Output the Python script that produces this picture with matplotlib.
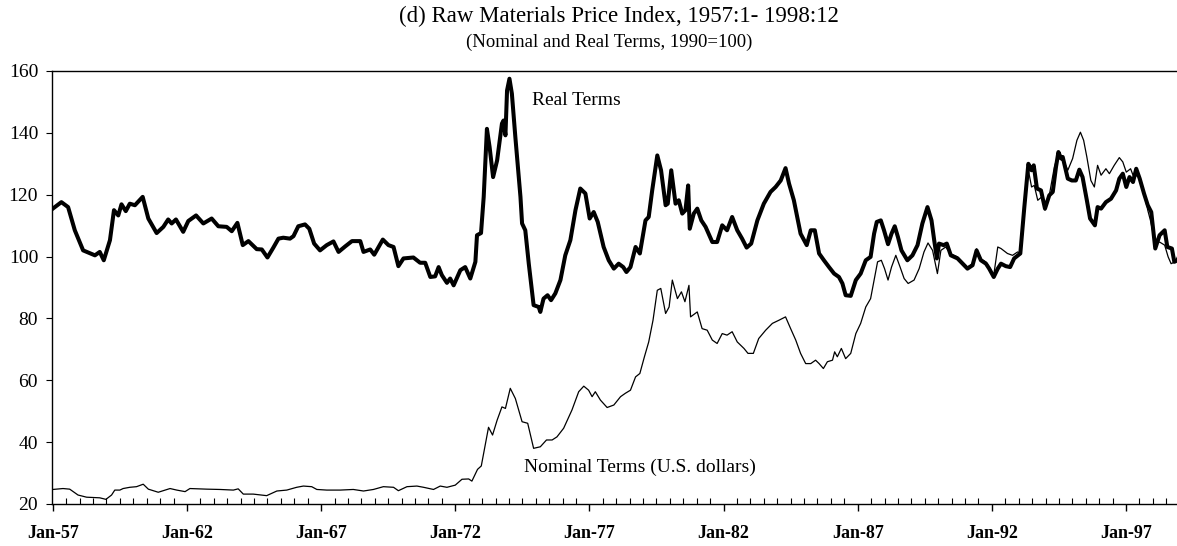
import matplotlib
matplotlib.use("Agg")
import matplotlib.pyplot as plt
from matplotlib.ticker import MultipleLocator, FixedLocator

# Real terms (decimal years)
real_t = [1957.00, 1957.32, 1957.57, 1957.82, 1958.13, 1958.57, 1958.75, 1958.90, 1959.13, 1959.28,
          1959.44, 1959.56, 1959.72, 1959.87, 1960.06, 1960.35, 1960.56, 1960.87, 1961.12, 1961.30,
          1961.43, 1961.59, 1961.86, 1962.05, 1962.34, 1962.61, 1962.92, 1963.17, 1963.48, 1963.67,
          1963.88, 1964.08, 1964.29, 1964.60, 1964.79, 1965.00, 1965.22, 1965.41, 1965.59, 1965.84,
          1965.97, 1966.15, 1966.40, 1966.56, 1966.74, 1966.96, 1967.21, 1967.46, 1967.65, 1967.90,
          1968.15, 1968.46, 1968.58, 1968.83, 1968.98, 1969.30, 1969.51, 1969.70, 1969.88, 1970.07,
          1970.44, 1970.69, 1970.88, 1971.07, 1971.25, 1971.38, 1971.50, 1971.69, 1971.81, 1971.94,
          1972.19, 1972.37, 1972.56, 1972.75, 1972.81, 1972.96, 1973.06, 1973.18, 1973.28, 1973.41,
          1973.56, 1973.74, 1973.80, 1973.87, 1973.93, 1974.02, 1974.11, 1974.24, 1974.43, 1974.49,
          1974.61, 1974.74, 1974.92, 1975.11, 1975.17, 1975.29, 1975.44, 1975.57, 1975.73, 1975.92,
          1976.10, 1976.29, 1976.48, 1976.66, 1976.85, 1977.01, 1977.16, 1977.31, 1977.53, 1977.72,
          1977.91, 1978.09, 1978.26, 1978.38, 1978.53, 1978.72, 1978.88, 1979.09, 1979.21, 1979.34,
          1979.53, 1979.67, 1979.84, 1979.92, 1980.05, 1980.21, 1980.33, 1980.46, 1980.58, 1980.68,
          1980.74, 1980.89, 1981.02, 1981.17, 1981.33, 1981.58, 1981.76, 1981.95, 1982.13, 1982.32,
          1982.51, 1982.69, 1982.86, 1983.03, 1983.26, 1983.50, 1983.75, 1983.94, 1984.13, 1984.31,
          1984.44, 1984.62, 1984.87, 1985.10, 1985.25, 1985.40, 1985.56, 1985.74, 1985.93, 1986.12,
          1986.30, 1986.43, 1986.55, 1986.74, 1986.93, 1987.11, 1987.30, 1987.48, 1987.61, 1987.71,
          1987.86, 1987.98, 1988.13, 1988.26, 1988.38, 1988.50, 1988.63, 1988.85, 1989.04, 1989.23,
          1989.41, 1989.60, 1989.75, 1989.85, 1989.95, 1990.03, 1990.20, 1990.32, 1990.47, 1990.72,
          1990.91, 1991.09, 1991.28, 1991.43, 1991.59, 1991.78, 1991.90, 1992.07, 1992.22, 1992.34,
          1992.52, 1992.68, 1992.83, 1993.06, 1993.21, 1993.36, 1993.48, 1993.56, 1993.68, 1993.83,
          1993.98, 1994.14, 1994.27, 1994.39, 1994.48, 1994.58, 1994.64, 1994.70, 1994.83, 1994.98,
          1995.13, 1995.26, 1995.38, 1995.54, 1995.66, 1995.84, 1995.94, 1996.07, 1996.25, 1996.44,
          1996.63, 1996.75, 1996.88, 1997.01, 1997.13, 1997.26, 1997.38, 1997.51, 1997.67, 1997.81,
          1997.94, 1998.09, 1998.25, 1998.44, 1998.54, 1998.71, 1998.80, 1998.92]
real_v = [115.5, 117.6, 116.0, 108.5, 102.0, 100.4, 101.5, 98.8, 105.3, 115.0,
          113.3, 116.9, 114.7, 117.1, 116.6, 119.3, 112.3, 107.6, 109.6, 112.0,
          110.7, 112.0, 108.0, 111.5, 113.3, 110.7, 112.3, 109.8, 109.6, 108.2,
          110.9, 103.7, 105.0, 102.4, 102.3, 99.7, 102.9, 105.8, 106.1, 105.8,
          106.6, 109.8, 110.4, 109.0, 104.2, 102.0, 103.7, 104.9, 101.5, 103.3,
          105.0, 105.0, 101.5, 102.3, 100.6, 105.5, 103.7, 103.1, 96.9, 99.4,
          99.7, 98.0, 98.0, 93.4, 93.6, 96.6, 94.0, 91.5, 92.9, 90.7,
          95.6, 96.6, 92.9, 98.3, 106.9, 107.6, 119.3, 141.3, 135.4, 125.7,
          131.1, 143.0, 144.0, 139.2, 153.7, 157.5, 152.7, 138.6, 119.3, 110.7,
          108.5, 97.7, 84.3, 83.7, 82.1, 86.4, 87.5, 85.9, 88.1, 92.4,
          100.4, 105.3, 115.0, 122.0, 120.4, 112.3, 114.4, 111.2, 103.1, 98.8,
          96.1, 97.7, 96.6, 95.0, 96.6, 103.1, 101.0, 111.7, 112.8, 121.4,
          132.7, 127.9, 116.6, 117.1, 127.9, 117.1, 118.2, 113.9, 115.0, 123.0,
          109.0, 113.9, 115.5, 111.7, 109.6, 104.7, 104.7, 110.1, 108.5, 112.8,
          108.5, 105.8, 102.9, 104.2, 111.7, 117.1, 120.9, 122.5, 124.6, 128.6,
          123.6, 118.2, 107.4, 103.7, 108.5, 108.5, 101.0, 98.8, 96.6, 94.5,
          93.4, 91.3, 87.5, 87.3, 92.4, 94.5, 98.8, 99.9, 107.4, 111.2,
          111.7, 108.5, 104.0, 107.4, 109.8, 106.3, 102.0, 98.8, 100.4, 103.7,
          110.7, 116.0, 111.7, 105.3, 99.4, 104.2, 103.7, 104.2, 100.4, 99.4,
          97.7, 96.1, 97.2, 102.0, 98.8, 97.7, 96.1, 93.4, 96.1, 97.7,
          96.9, 96.6, 99.4, 101.0, 116.0, 130.0, 127.9, 129.5, 122.0, 121.4,
          115.5, 119.8, 120.9, 129.0, 133.8, 131.7, 132.2, 130.0, 125.2, 124.6,
          124.6, 128.1, 125.7, 118.2, 112.3, 110.1, 116.0, 115.5, 117.6, 118.7,
          121.4, 125.2, 126.8, 122.5, 125.7, 124.1, 128.4, 125.2, 120.4, 116.6,
          114.4, 102.6, 106.9, 108.5, 103.1, 102.6, 98.3, 98.8]

# Nominal terms (U.S. dollars)
nom_t = [1957.00, 1957.38, 1957.63, 1957.94, 1958.26, 1958.75, 1958.98, 1959.19, 1959.31, 1959.50,
         1959.62, 1959.87, 1960.12, 1960.37, 1960.56, 1960.93, 1961.37, 1961.62, 1961.93, 1962.11,
         1962.74, 1963.23, 1963.73, 1963.91, 1964.10, 1964.47, 1964.97, 1965.35, 1965.72, 1966.09,
         1966.34, 1966.65, 1966.84, 1967.21, 1967.71, 1968.20, 1968.58, 1968.95, 1969.32, 1969.70,
         1969.88, 1970.20, 1970.57, 1970.82, 1971.19, 1971.44, 1971.69, 1972.00, 1972.25, 1972.50,
         1972.62, 1972.83, 1972.97, 1973.24, 1973.39, 1973.56, 1973.74, 1973.87, 1974.05, 1974.24,
         1974.49, 1974.70, 1974.92, 1975.17, 1975.40, 1975.61, 1975.79, 1976.04, 1976.35, 1976.60,
         1976.79, 1976.97, 1977.10, 1977.22, 1977.41, 1977.66, 1977.91, 1978.16, 1978.34, 1978.53,
         1978.72, 1978.88, 1979.05, 1979.21, 1979.37, 1979.53, 1979.66, 1979.84, 1979.97, 1980.09,
         1980.28, 1980.43, 1980.56, 1980.71, 1980.77, 1981.02, 1981.20, 1981.39, 1981.58, 1981.76,
         1981.95, 1982.13, 1982.32, 1982.51, 1982.76, 1982.91, 1983.11, 1983.31, 1983.57, 1983.82,
         1984.06, 1984.31, 1984.50, 1984.69, 1984.87, 1985.06, 1985.25, 1985.43, 1985.56, 1985.72,
         1985.87, 1986.06, 1986.14, 1986.24, 1986.39, 1986.55, 1986.74, 1986.93, 1987.11, 1987.30,
         1987.48, 1987.61, 1987.74, 1987.88, 1988.00, 1988.13, 1988.26, 1988.42, 1988.58, 1988.73,
         1988.88, 1989.10, 1989.29, 1989.47, 1989.62, 1989.79, 1989.97, 1990.10, 1990.28, 1990.47,
         1990.72, 1990.91, 1991.09, 1991.28, 1991.43, 1991.59, 1991.78, 1991.90, 1992.07, 1992.22,
         1992.34, 1992.58, 1992.77, 1992.96, 1993.08, 1993.23, 1993.36, 1993.48, 1993.58, 1993.71,
         1993.86, 1993.98, 1994.14, 1994.33, 1994.48, 1994.64, 1994.83, 1995.01, 1995.17, 1995.30,
         1995.42, 1995.54, 1995.69, 1995.82, 1995.94, 1996.07, 1996.25, 1996.38, 1996.56, 1996.75,
         1996.88, 1997.01, 1997.17, 1997.31, 1997.43, 1997.62, 1997.81, 1997.91, 1998.09, 1998.25,
         1998.44, 1998.57, 1998.68, 1998.83, 1998.92]
nom_v = [24.7, 25.0, 24.8, 22.9, 22.2, 22.0, 21.5, 22.9, 24.5, 24.5,
         25.0, 25.4, 25.6, 26.4, 24.8, 23.8, 25.0, 24.5, 24.0, 25.0,
         24.8, 24.7, 24.5, 24.9, 23.2, 23.2, 22.7, 24.2, 24.5, 25.4,
         25.8, 25.6, 24.7, 24.5, 24.5, 24.7, 24.2, 24.7, 25.6, 25.4,
         24.3, 25.6, 25.8, 25.4, 24.7, 25.8, 25.4, 26.1, 28.0, 28.1,
         27.4, 31.2, 32.3, 44.8, 42.3, 47.1, 51.4, 50.9, 57.4, 54.1,
         46.6, 46.1, 38.0, 38.5, 40.7, 40.7, 41.7, 44.5, 50.4, 56.3,
         58.1, 56.8, 54.7, 56.3, 53.6, 51.2, 52.0, 54.7, 55.8, 56.8,
         61.1, 62.2, 67.6, 72.4, 79.4, 89.1, 89.7, 81.6, 83.7, 92.4,
         86.4, 88.6, 85.4, 90.7, 80.5, 82.1, 76.7, 76.2, 73.0, 71.9,
         75.1, 74.6, 75.7, 72.4, 70.3, 68.7, 68.7, 73.5, 76.2, 78.4,
         79.4, 80.5, 76.7, 73.0, 68.7, 65.4, 65.4, 66.5, 65.4, 63.8,
         66.0, 66.5, 69.2, 67.6, 70.3, 67.0, 68.7, 75.1, 78.4, 83.7,
         86.4, 92.4, 98.3, 98.8, 96.1, 92.4, 96.6, 100.4, 96.6, 92.9,
         91.3, 92.4, 96.1, 101.5, 104.4, 102.0, 94.5, 102.0, 103.1, 100.9,
         99.9, 98.2, 96.6, 97.7, 102.5, 99.3, 98.2, 96.6, 94.0, 103.1,
         102.6, 101.0, 100.4, 101.5, 101.0, 116.0, 127.9, 122.5, 123.0, 118.2,
         119.3, 115.0, 119.8, 129.0, 133.3, 131.7, 127.9, 131.7, 137.6, 140.2,
         137.6, 132.2, 124.6, 122.5, 129.5, 126.3, 128.4, 126.8, 129.5, 132.0,
         130.6, 127.3, 128.4, 125.2, 126.8, 122.5, 115.0, 111.7, 104.2, 104.7,
         103.7, 99.9, 97.7, 98.3, 100.0]

tick_years = [1957, 1962, 1967, 1972, 1977, 1982, 1987, 1992, 1997]
tick_labels = ["Jan-57", "Jan-62", "Jan-67", "Jan-72", "Jan-77", "Jan-82", "Jan-87", "Jan-92", "Jan-97"]

plt.rcParams["font.family"] = ["Liberation Serif", "DejaVu Serif"]

fig = plt.figure(figsize=(11.77, 5.46), dpi=100)
ax = fig.add_axes([52 / 1177, 42 / 546, 1125 / 1177, 433 / 546])

ax.plot(nom_t, nom_v, color="black", lw=0.9)
ax.plot(real_t, real_v, color="black", lw=2.9, solid_joinstyle="round")

ax.set_xlim(1956.97, 1998.9)
ax.set_ylim(20, 160)
ax.set_yticks(range(20, 161, 20))

ax.xaxis.set_major_locator(FixedLocator(tick_years))
ax.set_xticklabels(tick_labels, fontweight="bold", fontsize=13)
ax.xaxis.set_minor_locator(MultipleLocator(0.5))
ax.tick_params(axis="x", which="major", direction="out", length=5, width=1, pad=10)
ax.tick_params(axis="x", which="minor", direction="in", length=4, width=0.8)
ax.tick_params(axis="y", direction="out", length=4, width=0.8, pad=6, labelsize=14)

ax.spines["right"].set_visible(False)
for s in ["left", "bottom", "top"]:
    ax.spines[s].set_linewidth(1.0)

ax.text(1974.86, 150.5, "Real Terms", fontsize=14, va="center", ha="left")
ax.text(1974.56, 32.0, "Nominal Terms (U.S. dollars)", fontsize=14, va="center", ha="left")

fig.text(0.526, 0.97, "(d) Raw Materials Price Index, 1957:1- 1998:12",
         ha="center", va="center", fontsize=16.5)
fig.text(0.518, 0.922, "(Nominal and Real Terms, 1990=100)",
         ha="center", va="center", fontsize=13.5)

fig.savefig("out.png", dpi=100)
